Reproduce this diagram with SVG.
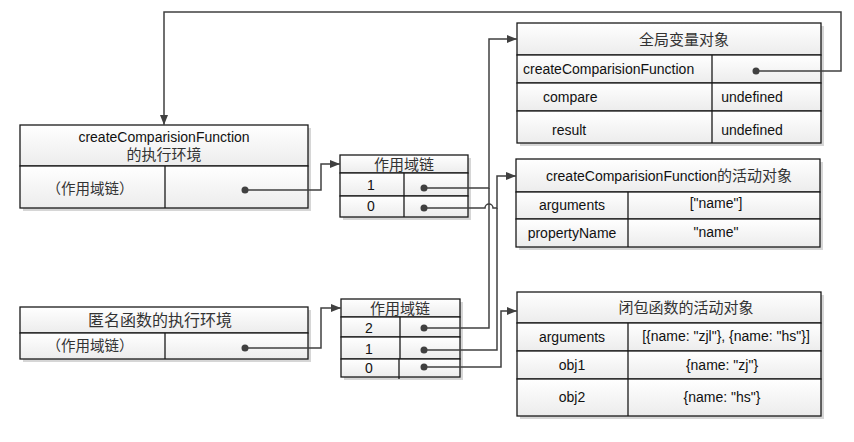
<svg xmlns="http://www.w3.org/2000/svg" width="854" height="442" viewBox="0 0 854 442">
<style>
.sh{fill:#d6d6d6}
.cell{fill:url(#g);stroke:#1a1a1a;stroke-width:1.3}
.ln{stroke:#1a1a1a;stroke-width:1.3;fill:none}
.t{font-family:"Liberation Sans","Noto Sans CJK SC",sans-serif;font-size:14px;fill:#111;text-anchor:middle}
.l{text-anchor:start}
.c{font-family:"Noto Sans CJK SC","Liberation Sans",sans-serif;font-size:15px;fill:#333;text-anchor:middle}
.cn{stroke:#404040;stroke-width:1.5;fill:none}
.dot{fill:#404040}
</style>
<defs>
<linearGradient id="g" x1="0" y1="0" x2="0" y2="1"><stop offset="0" stop-color="#ffffff"/><stop offset="1" stop-color="#ececec"/></linearGradient>
<marker id="a" viewBox="0 0 10 10" refX="10" refY="5" markerWidth="10" markerHeight="10" markerUnits="userSpaceOnUse" orient="auto"><path d="M0 1 L10 5 L0 9 Z" fill="#404040"/></marker>
</defs>
<g id="env1">
<rect class="sh" x="23" y="128" width="288" height="83"/>
<rect class="cell" x="20" y="125" width="288" height="41"/>
<rect class="cell" x="20" y="166" width="288" height="42"/>
<line class="ln" x1="165" y1="166" x2="165" y2="208"/>
<text class="t" x="164" y="142">createComparisionFunction</text>
<text class="c" x="164" y="160">的执行环境</text>
<text class="c" x="90" y="194" style="font-size:14.5px">（作用域链）</text>
<circle class="dot" cx="245" cy="190" r="3.5"/>
</g>
<g id="env2">
<rect class="sh" x="23" y="310" width="288" height="52"/>
<rect class="cell" x="20" y="307" width="288" height="26"/>
<rect class="cell" x="20" y="333" width="288" height="26"/>
<line class="ln" x1="165" y1="333" x2="165" y2="359"/>
<text class="c" x="160" y="326" style="font-size:16px">匿名函数的执行环境</text>
<text class="c" x="90" y="351" style="font-size:14.5px">（作用域链）</text>
<circle class="dot" cx="245" cy="348" r="3.5"/>
</g>
<g id="scope1">
<rect class="sh" x="343" y="158" width="128" height="62"/>
<rect class="cell" x="340" y="155" width="128" height="18"/>
<rect class="cell" x="340" y="173" width="128" height="23"/>
<rect class="cell" x="340" y="196" width="128" height="21"/>
<line class="ln" x1="404" y1="173" x2="404" y2="217"/>
<text class="c" x="404" y="170">作用域链</text>
<text class="t" x="371" y="190">1</text>
<text class="t" x="371" y="211">0</text>
<circle class="dot" cx="424" cy="188" r="3.5"/>
<circle class="dot" cx="424" cy="208" r="3.5"/>
</g>
<g id="scope2">
<rect class="sh" x="344" y="302" width="119" height="78"/>
<rect class="cell" x="341" y="299" width="119" height="18"/>
<rect class="cell" x="341" y="317" width="119" height="20"/>
<rect class="cell" x="341" y="337" width="119" height="22"/>
<rect class="cell" x="341" y="359" width="119" height="18"/>
<line class="ln" x1="400" y1="317" x2="400" y2="359"/>
<line class="ln" x1="399" y1="359" x2="399" y2="379"/>
<text class="c" x="400" y="314">作用域链</text>
<text class="t" x="369" y="333">2</text>
<text class="t" x="369" y="354">1</text>
<text class="t" x="369" y="373">0</text>
<circle class="dot" cx="424" cy="328" r="3.5"/>
<circle class="dot" cx="424" cy="350" r="3.5"/>
<circle class="dot" cx="424" cy="367" r="3.5"/>
</g>
<g id="global">
<rect class="sh" x="520" y="26" width="304" height="120"/>
<rect class="cell" x="517" y="23" width="304" height="32"/>
<rect class="cell" x="517" y="55" width="304" height="28"/>
<rect class="cell" x="517" y="83" width="304" height="28"/>
<rect class="cell" x="517" y="111" width="304" height="32"/>
<line class="ln" x1="712" y1="55" x2="712" y2="143"/>
<text class="c" x="684" y="45">全局变量对象</text>
<text class="t l" x="523" y="74">createComparisionFunction</text>
<text class="t l" x="543" y="102">compare</text>
<text class="t" x="752" y="102">undefined</text>
<text class="t l" x="552" y="135">result</text>
<text class="t" x="752" y="135">undefined</text>
<circle class="dot" cx="756" cy="71" r="3.5"/>
</g>
<g id="ao1">
<rect class="sh" x="519" y="162" width="304" height="88"/>
<rect class="cell" x="516" y="159" width="304" height="33"/>
<rect class="cell" x="516" y="192" width="304" height="27"/>
<rect class="cell" x="516" y="219" width="304" height="28"/>
<line class="ln" x1="628" y1="192" x2="628" y2="247"/>
<text class="c" x="669" y="181"><tspan style="font-family:'Liberation Sans',sans-serif;font-size:14px;fill:#111">createComparisionFunction</tspan>的活动对象</text>
<text class="t" x="572" y="210">arguments</text>
<text class="t" x="716" y="208">["name"]</text>
<text class="t" x="572" y="238">propertyName</text>
<text class="t" x="716" y="237">"name"</text>
</g>
<g id="closure">
<rect class="sh" x="520" y="295" width="304" height="124"/>
<rect class="cell" x="517" y="292" width="304" height="31"/>
<rect class="cell" x="517" y="323" width="304" height="28"/>
<rect class="cell" x="517" y="351" width="304" height="28"/>
<rect class="cell" x="517" y="379" width="304" height="37"/>
<line class="ln" x1="628" y1="323" x2="628" y2="416"/>
<text class="c" x="686" y="313">闭包函数的活动对象</text>
<text class="t" x="572" y="342">arguments</text>
<text class="t" x="726" y="341">[{name: "zjl"}, {name: "hs"}]</text>
<text class="t" x="722" y="370">{name: "zj"}</text>
<text class="t" x="572" y="370">obj1</text>
<text class="t" x="572" y="402">obj2</text>
<text class="t" x="722" y="402">{name: "hs"}</text>
</g>
<g id="connectors">
<path class="cn" d="M756 71 H841 V12 H164 V125" marker-end="url(#a)"/>
<path class="cn" d="M245 190 H321 V164 H340" marker-end="url(#a)"/>
<path class="cn" d="M245 348 H321 V308 H341" marker-end="url(#a)"/>
<path class="cn" d="M424 188 H489 V39 H517" marker-end="url(#a)"/>
<path class="cn" d="M424 208 H485 A4 4 0 0 1 493 208 H497 V176 H516" marker-end="url(#a)"/>
<path class="cn" d="M424 328 H489 V188"/>
<path class="cn" d="M424 350 H497 V208"/>
<path class="cn" d="M424 367 H501 V311 H517" marker-end="url(#a)"/>
</g>
</svg>
